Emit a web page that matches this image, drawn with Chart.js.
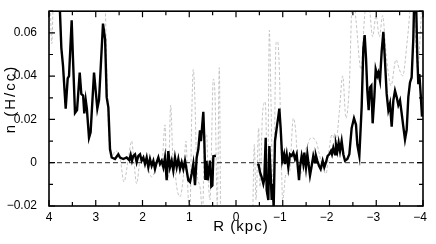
<!DOCTYPE html>
<html>
<head>
<meta charset="utf-8">
<script src="https://cdn.jsdelivr.net/npm/chart.js@4.4.0/dist/chart.umd.min.js"></script>
<style>
  html, body { margin: 0; padding: 0; background: #fff; }
</style>
</head>
<body>
<canvas id="densityChart" width="436" height="244"></canvas>
<script>
// Radius (kpc) and density n (H/cc)
const blackLeftR = [3.78, 3.736, 3.70, 3.643, 3.60, 3.572, 3.515, 3.487, 3.444, 3.40, 3.343, 3.309, 3.27, 3.245, 3.215, 3.19, 3.144, 3.11, 3.037, 3.00, 2.966, 2.93, 2.845, 2.80, 2.766, 2.73, 2.695, 2.659, 2.588, 2.517, 2.481, 2.41, 2.339, 2.282, 2.253, 2.225, 2.196, 2.16, 2.125, 2.089, 2.053, 2.018, 1.982, 1.947, 1.911, 1.875, 1.84, 1.804, 1.768, 1.733, 1.697, 1.661, 1.626, 1.59, 1.554, 1.519, 1.483, 1.448, 1.412, 1.376, 1.341, 1.305, 1.269, 1.234, 1.198, 1.162, 1.127, 1.091, 1.055, 1.02, 0.984, 0.948, 0.913, 0.877, 0.841, 0.806, 0.77, 0.749, 0.72, 0.699, 0.68, 0.655, 0.63, 0.606, 0.578, 0.556, 0.528, 0.505, 0.485, 0.43];
const blackLeftN = [0.078, 0.053, 0.0447, 0.025, 0.039, 0.040, 0.0658, 0.048, 0.023, 0.0243, 0.0416, 0.0318, 0.031, 0.0228, 0.029, 0.025, 0.0115, 0.014, 0.0416, 0.033, 0.025, 0.029, 0.0643, 0.057, 0.0303, 0.0255, 0.0062, 0.0024, 0.0017, 0.0039, 0.0024, 0.0017, 0.0024, 0.0012, 0.0036, 0.0009, 0.0032, 0.0039, 0.0002, 0.0032, 0.0039, 0.0009, 0.0024, -0.0006, 0.0024, -0.0021, 0.0017, -0.0014, 0.0009, -0.0029, 0.0002, 0.0024, -0.0006, 0.0009, -0.0021, 0.0024, -0.0081, 0.0054, -0.0021, 0.0009, -0.0036, 0.0024, -0.0021, 0.0017, -0.0029, 0.0002, -0.0029, 0.0009, -0.0036, -0.0081, -0.0089, -0.0051, -0.0006, -0.0104, 0.0024, 0.0063, 0.015, 0.010, 0.018, 0.0235, 0.012, -0.008, 0.0009, -0.0081, -0.003, 0.001, -0.011, -0.0105, 0.003, 0.0032];

const blackRightR = [-0.456, -0.485, -0.513, -0.549, -0.585, -0.606, -0.635, -0.656, -0.692, -0.713, -0.742, -0.763, -0.784, -0.806, -0.834, -0.87, -0.905, -0.927, -0.955, -0.991, -1.027, -1.048, -1.084, -1.119, -1.155, -1.191, -1.226, -1.262, -1.298, -1.348, -1.369, -1.405, -1.44, -1.462, -1.497, -1.526, -1.583, -1.619, -1.654, -1.69, -1.711, -1.74, -1.775, -1.811, -1.854, -1.889, -1.925, -1.961, -1.996, -2.032, -2.053, -2.082, -2.118, -2.139, -2.168, -2.196, -2.225, -2.26, -2.296, -2.332, -2.382, -2.424, -2.474, -2.524, -2.567, -2.595, -2.638, -2.688, -2.724, -2.752, -2.781, -2.809, -2.838, -2.866, -2.895, -2.923, -2.959, -2.988, -3.023, -3.045, -3.08, -3.116, -3.152, -3.187, -3.223, -3.259, -3.294, -3.33, -3.366, -3.401, -3.437, -3.472, -3.508, -3.544, -3.579, -3.615, -3.651, -3.686, -3.722, -3.757, -3.793, -3.815, -3.85, -3.879, -3.9, -3.922, -3.95, -3.979];
const blackRightN = [-0.0006, -0.001, -0.0044, -0.0066, -0.0097, -0.0074, 0.0115, -0.0127, -0.0172, 0.0077, -0.0051, -0.0172, -0.0097, -0.0205, 0.010, 0.016, 0.0213, 0.025, 0.016, 0.0009, 0.0039, -0.0006, 0.0039, -0.0021, 0.0039, 0.0032, 0.0047, 0.0017, 0.0039, -0.0081, -0.0021, 0.0032, -0.0006, 0.0047, -0.0021, 0.0039, -0.0059, -0.0014, 0.0032, 0.0002, 0.0032, 0.0009, -0.0014, -0.0029, 0.0009, -0.0021, 0.0002, 0.0032, 0.0039, 0.0054, 0.0039, 0.0069, 0.0039, 0.0084, 0.0054, 0.0092, 0.0054, 0.010, 0.0039, 0.0009, 0.0017, 0.0039, 0.016, 0.0205, 0.0175, 0.0084, 0.0032, 0.0258, 0.0529, 0.059, 0.0484, 0.0333, 0.0243, 0.0348, 0.0356, 0.0182, 0.0303, 0.0431, 0.0401, 0.0416, 0.0379, 0.0514, 0.0605, 0.0469, 0.0318, 0.0243, 0.0273, 0.0167, 0.0288, 0.0333, 0.0303, 0.0266, 0.0288, 0.0228, 0.0167, 0.0107, 0.0152, 0.0303, 0.0371, 0.0394, 0.0575, 0.078, 0.076, 0.0484, 0.0363, 0.0409, 0.0318, 0.0213];

const grayLeftR = [3.99, 3.94, 3.89, 3.5, 3.0, 2.86, 2.80, 2.76, 2.72, 2.68, 2.64, 2.588, 2.481, 2.396, 2.30, 2.231, 2.196, 2.125, 2.053, 1.982, 1.911, 1.804, 1.733, 1.661, 1.59, 1.519, 1.483, 1.448, 1.397, 1.354, 1.305, 1.269, 1.198, 1.127, 1.07, 1.02, 0.984, 0.948, 0.913, 0.877, 0.841, 0.77, 0.713, 0.677, 0.627, 0.592, 0.556, 0.485, 0.449, 0.40, 0.357, 0.33];
const grayLeftN = [0.09, 0.055, 0.09, 0.1, 0.1, 0.09, 0.075, 0.04, 0.012, 0.006, 0.003, 0.0054, 0.0024, -0.0089, 0.0024, 0.010, 0.0039, -0.0097, 0.0009, 0.0024, -0.0006, -0.0066, -0.0036, 0.0024, -0.0021, 0.0175, -0.0051, -0.0081, 0.0266, 0.0039, -0.0036, -0.0112, -0.0157, -0.0066, 0.010, -0.0172, -0.0233, 0.0205, 0.0431, 0.0281, -0.0021, -0.0112, -0.023, 0.010, 0.013, -0.0081, -0.0172, 0.0386, 0.0311, -0.020, 0.0439, -0.025];

const grayRightR = [-0.357, -0.392, -0.428, -0.485, -0.513, -0.57, -0.627, -0.677, -0.713, -0.749, -0.799, -0.856, -0.891, -0.927, -0.963, -0.998, -1.07, -1.141, -1.226, -1.283, -1.319, -1.39, -1.462, -1.533, -1.604, -1.711, -1.783, -1.854, -1.925, -1.996, -2.053, -2.139, -2.21, -2.282, -2.353, -2.424, -2.496, -2.567, -2.674, -2.745, -2.816, -2.923, -2.995, -3.066, -3.137, -3.209, -3.316, -3.422, -3.494, -3.565, -3.672, -3.779, -3.886, -3.957, -3.99];
const grayRightN = [-0.025, 0.0084, -0.0172, 0.016, -0.0112, 0.0235, 0.0281, -0.0112, 0.0612, 0.0281, -0.025, 0.0552, 0.056, 0.0431, 0.0084, -0.0172, -0.0051, -0.0051, 0.0205, 0.013, -0.0021, -0.0051, 0.0039, 0.0084, 0.0115, 0.010, 0.0039, -0.0021, -0.0051, 0.0069, 0.013, 0.010, 0.0235, 0.0401, 0.0205, 0.0356, 0.08, 0.0658, 0.0431, 0.0658, 0.08, 0.0582, 0.068, 0.0582, 0.068, 0.0507, 0.0356, 0.0476, 0.0431, 0.0401, 0.0582, 0.08, 0.0431, 0.0658, 0.08];

const zeroR = [4, -4];
const zeroN = [0, 0];

const xTicks = [4, 3, 2, 1, 0, -1, -2, -3, -4];
const yTicks = [-0.02, 0, 0.02, 0.04, 0.06];

function toPoints(rs, ns) {
  return rs.map((r, i) => ({ x: r, y: ns[i] }));
}

function minusSign(text) {
  return text.replace('-', '\u2212');
}

// frame, inward ticks and axis titles
const framePlugin = {
  id: 'frame',
  afterDraw(chart) {
    const { ctx, chartArea: a, scales: { x, y } } = chart;
    ctx.save();
    ctx.strokeStyle = '#000';
    ctx.lineWidth = 1.2;
    ctx.beginPath();
    for (let i = -8; i <= 8; i++) {
      const v = i / 2;
      const px = x.getPixelForValue(v);
      const len = i % 2 === 0 ? 6 : 4;
      ctx.moveTo(px, a.bottom); ctx.lineTo(px, a.bottom - len);
      ctx.moveTo(px, a.top); ctx.lineTo(px, a.top + len);
    }
    for (let i = -2; i <= 7; i++) {
      const py = y.getPixelForValue(i / 100);
      const len = i % 2 === 0 ? 6 : 4;
      ctx.moveTo(a.left, py); ctx.lineTo(a.left + len, py);
      ctx.moveTo(a.right, py); ctx.lineTo(a.right - len, py);
    }
    ctx.stroke();
    ctx.lineWidth = 1.6;
    ctx.strokeRect(a.left, a.top, a.right - a.left, a.bottom - a.top);

    ctx.fillStyle = '#000';
    ctx.textAlign = 'center';
    ctx.textBaseline = 'middle';
    ctx.font = '15px "Liberation Sans", Arial, sans-serif';
    ctx.letterSpacing = '1px';
    ctx.fillText('R (kpc)', (a.left + a.right) / 2 + 5, 227);
    ctx.translate(11, 99);
    ctx.rotate(-Math.PI / 2);
    ctx.letterSpacing = '2px';
    ctx.fillText('n (H/cc)', 0, 0);
    ctx.restore();
  }
};

const ctx = document.getElementById('densityChart').getContext('2d');

new Chart(ctx, {
  type: 'line',
  data: {
    datasets: [
      { data: toPoints(blackLeftR, blackLeftN), borderColor: '#000', borderWidth: 2.4, tension: 0 },
      { data: toPoints(blackRightR, blackRightN), borderColor: '#000', borderWidth: 2.4, tension: 0 },
      { data: toPoints(zeroR, zeroN), borderColor: '#222', borderWidth: 1, borderDash: [5, 3] },
      { data: toPoints(grayLeftR, grayLeftN), borderColor: '#c4c4c4', borderWidth: 1, borderDash: [3, 2], cubicInterpolationMode: 'monotone' },
      { data: toPoints(grayRightR, grayRightN), borderColor: '#c4c4c4', borderWidth: 1, borderDash: [3, 2], cubicInterpolationMode: 'monotone' }
    ]
  },
  options: {
    responsive: false,
    animation: false,
    devicePixelRatio: 1,
    layout: { padding: { top: 7, right: 13, left: 0, bottom: 0 } },
    elements: { point: { radius: 0 } },
    plugins: { legend: { display: false }, tooltip: { enabled: false } },
    scales: {
      x: {
        type: 'linear',
        reverse: true,
        min: -4,
        max: 4,
        grid: { display: false },
        border: { display: false },
        afterBuildTicks: s => { s.ticks = xTicks.map(v => ({ value: v })); },
        afterFit: s => { s.height = 38; },
        ticks: {
          autoSkip: false,
          maxRotation: 0,
          padding: -4,
          color: '#000',
          font: { family: '"Liberation Sans", Arial, sans-serif', size: 12 },
          callback: v => v < 0 ? minusSign(String(v)) + '\u2002' : String(v)
        }
      },
      y: {
        min: -0.02,
        max: 0.07,
        grid: { display: false },
        border: { display: false },
        afterBuildTicks: s => { s.ticks = yTicks.map(v => ({ value: v })); },
        afterFit: s => { s.width = 49; },
        ticks: {
          padding: 4,
          color: '#000',
          font: { family: '"Liberation Sans", Arial, sans-serif', size: 12 },
          callback: v => v === 0 ? '0' : minusSign(v.toFixed(2))
        }
      }
    }
  },
  plugins: [framePlugin]
});
</script>
</body>
</html>
